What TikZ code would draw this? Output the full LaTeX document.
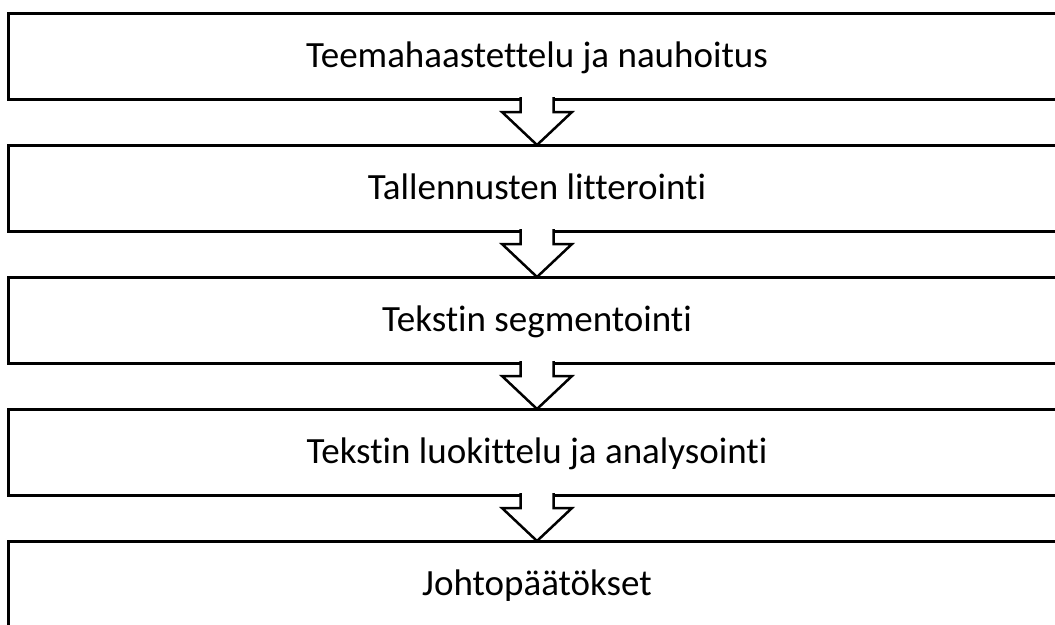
\documentclass[tikz,border=0pt]{standalone}
\usepackage{fontspec}
\setmainfont{Carlito}[Ligatures=NoCommon]
\usetikzlibrary{positioning}
\tikzset{
  stepbox/.style={draw=black, line width=3pt, fill=white, outer sep=0pt,
    minimum width=1057pt, minimum height=86pt, text height=26pt, text depth=4pt,
    font=\fontsize{37}{40}\selectfont},
  flowarrow/.style={draw=black, fill=white, line width=2.5pt, line join=miter}
}
\begin{document}
\begin{tikzpicture}[x=1pt,y=1pt,node distance=46pt]
    \useasboundingbox (0,0) rectangle (1055,-624);
    \clip (0,0) rectangle (1055,-624);
    % the five phases, top to bottom
    \node[stepbox] (s1) at (537,-56) {Teemahaastettelu ja nauhoitus};
    \node[stepbox, below=of s1] (s2) {Tallennusten litterointi};
    \node[stepbox, below=of s2] (s3) {Tekstin segmentointi};
    \node[stepbox, below=of s3] (s4) {Tekstin luokittelu ja analysointi};
    \node[stepbox, below=of s4] (s5) {Johtopäätökset};
    % hollow block arrows between the phases
    \foreach \a/\b in {s1/s2,s2/s3,s3/s4,s4/s5}
      \filldraw[flowarrow] ([xshift=-16.5pt,yshift=2pt]\a.south)
        |- ([xshift=-35pt,yshift=33pt]\b.north) -- (\b.north)
        -- ([xshift=35pt,yshift=33pt]\b.north) -| ([xshift=16.5pt,yshift=2pt]\a.south);
\end{tikzpicture}
\end{document}
